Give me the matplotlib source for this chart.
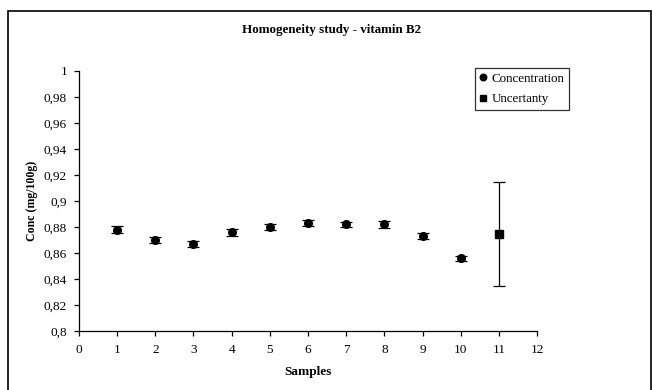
import matplotlib.pyplot as plt
from matplotlib.patches import Rectangle
from matplotlib.ticker import FuncFormatter

plt.rcParams['font.family'] = ['Liberation Serif', 'DejaVu Serif']

# samples 1-10: concentration, sample 11: overall uncertainty
samples = [1, 2, 3, 4, 5, 6, 7, 8, 9, 10]
conc = [0.878, 0.870, 0.867, 0.876, 0.880, 0.883, 0.882, 0.882, 0.873, 0.856]
conc_err = [0.0025, 0.0025, 0.0025, 0.0025, 0.0025, 0.0025, 0.002, 0.0025, 0.0025, 0.002]
unc_x = [11]
unc_y = [0.875]
unc_err = [0.040]

fig = plt.figure(figsize=(6.52, 3.90), dpi=100)
ax = fig.add_axes([0.121, 0.151, 0.703, 0.667])

ax.errorbar(samples, conc, yerr=conc_err, fmt='o', color='black', ms=5.5,
            ecolor='black', elinewidth=0.9, capsize=4.5, capthick=0.9, label='Concentration')
ax.errorbar(unc_x, unc_y, yerr=unc_err, fmt='s', color='black', ms=5.3,
            ecolor='black', elinewidth=0.9, capsize=4.5, capthick=0.9, label='Uncertanty')

ax.set_xlim(0, 12)
ax.set_ylim(0.8, 1.0)
ax.set_xticks(range(0, 13))
ax.set_yticks([0.8 + 0.02 * i for i in range(11)])
ax.yaxis.set_major_formatter(FuncFormatter(lambda v, p: f'{v:.2f}'.rstrip('0').rstrip('.').replace('.', ',')))
for s in ['top', 'right']:
    ax.spines[s].set_visible(False)
for s in ['left', 'bottom']:
    ax.spines[s].set_linewidth(0.9)
ax.tick_params(direction='out', length=3.5, width=0.9, labelsize=9.5)
ax.tick_params(axis='y', pad=5)
ax.tick_params(axis='x', pad=6)

ax.set_xlabel('Samples', fontsize=9.5, fontweight='bold', labelpad=7)
ax.set_ylabel('Conc (mg/100g)', fontsize=8.6, fontweight='bold', labelpad=4)
fig.text(0.509, 0.923, 'Homogeneity study - vitamin B2', ha='center', va='center',
         fontsize=9.4, fontweight='bold')

handles, labels = ax.get_legend_handles_labels()
handles = [h[0] for h in handles]
leg = ax.legend(handles, labels, loc='upper left', bbox_to_anchor=(475 / 652, 1 - 68 / 390),
                bbox_transform=fig.transFigure, fontsize=9.4, frameon=True, fancybox=False,
                handlelength=0.55, handletextpad=0.4, borderpad=0.35, labelspacing=0.65,
                borderaxespad=0, markerscale=0.85)
leg.get_frame().set_edgecolor('black')
leg.get_frame().set_linewidth(0.9)

# outer chart border
fig.patches.append(Rectangle((8 / 652, -0.05), 643 / 652, 1.05 - 11 / 390,
                             transform=fig.transFigure, fill=False, edgecolor='black',
                             linewidth=1.2, clip_on=False))

fig.savefig('out.png', dpi=100)
